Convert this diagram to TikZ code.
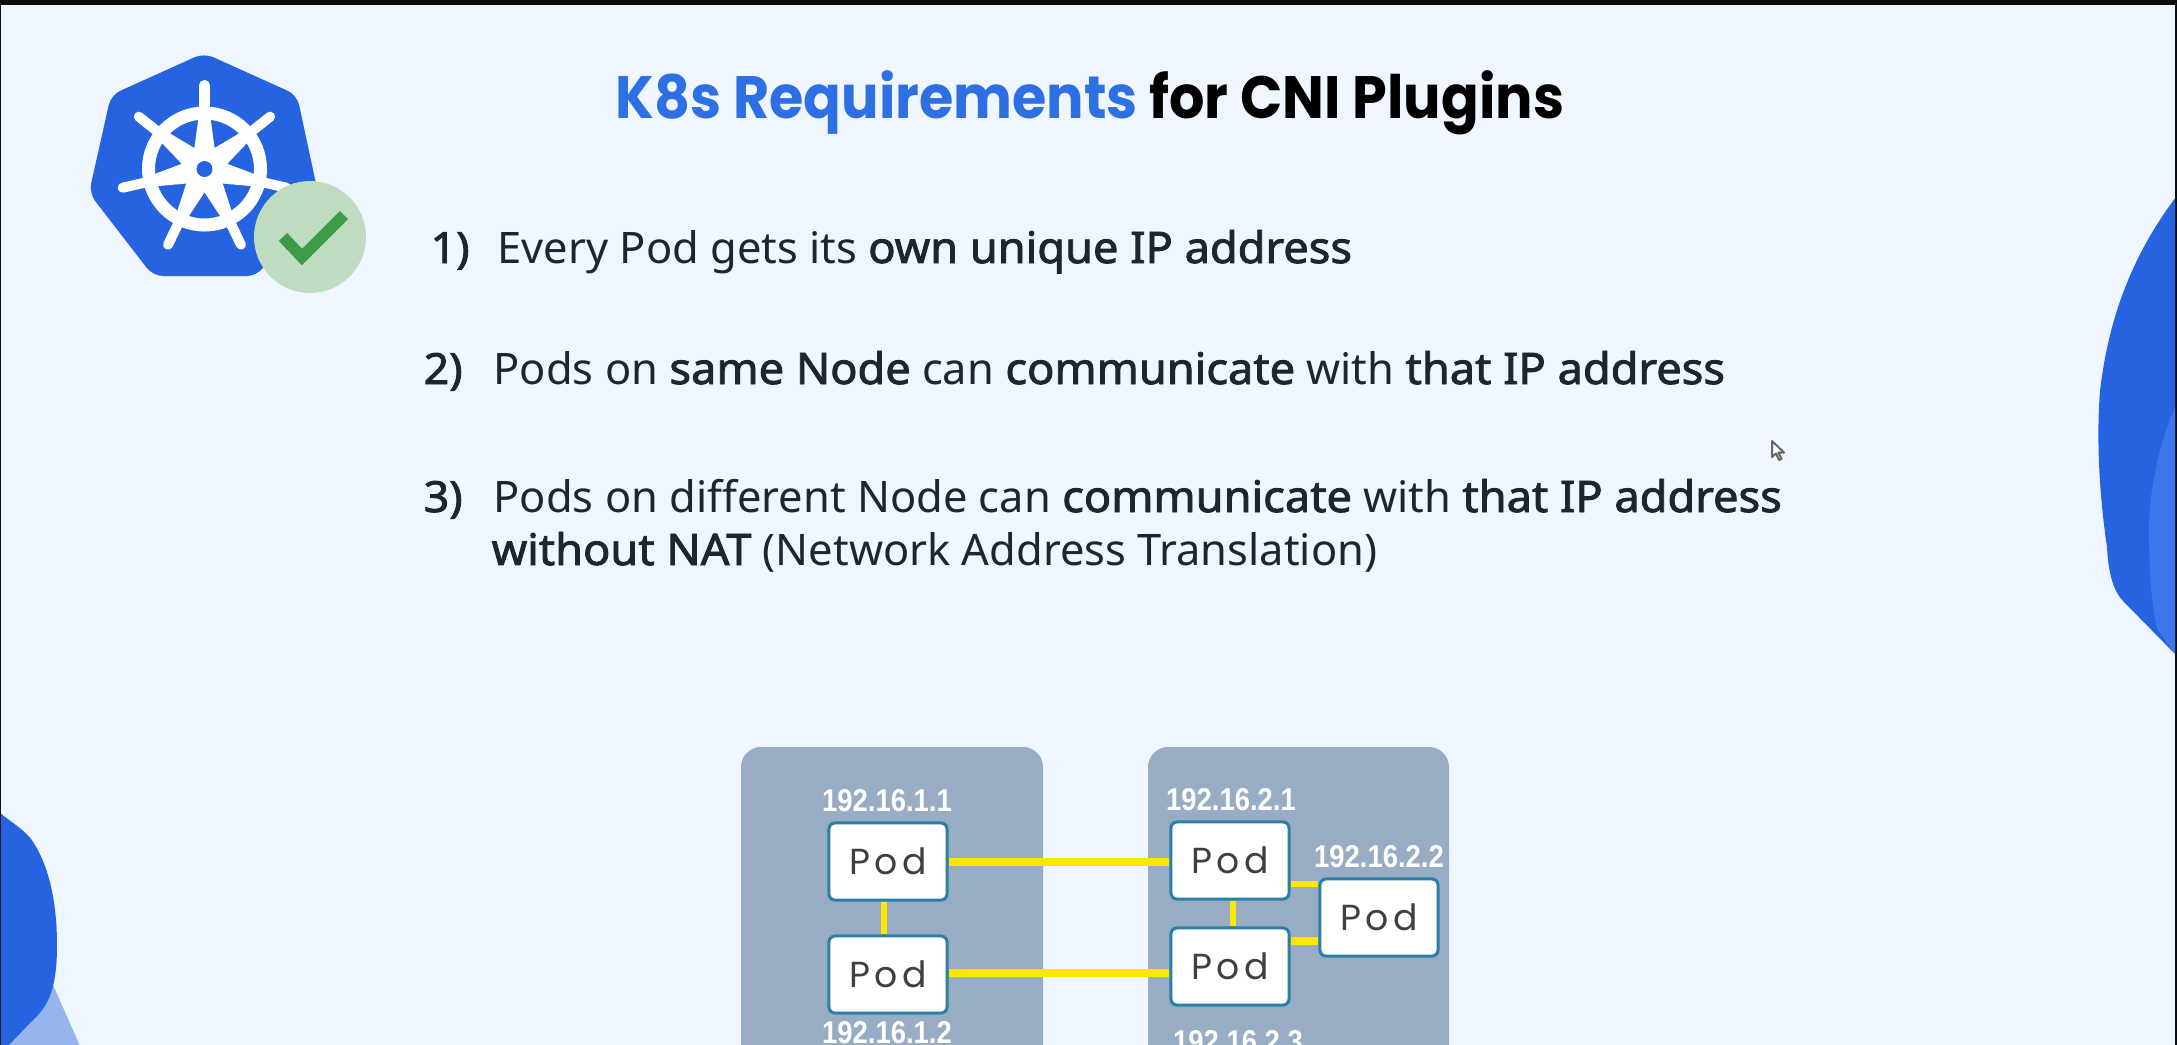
\documentclass[tikz,border=0pt]{standalone}
\usepackage{fontspec}
\usepackage{graphicx}
\setmainfont{Noto Sans}[BoldFont={Noto Sans},BoldFeatures={FakeBold=2,FakeStretch=1.04}]
\newfontfamily\titlef{Poppins}
\newfontfamily\ipf{Liberation Sans}
\newfontfamily\podf{Poppins}[LetterSpace=12]
\usetikzlibrary{calc}
\definecolor{bgc}{HTML}{EFF6FF}
\definecolor{blu}{HTML}{2563E0}
\definecolor{blub}{HTML}{3B76EC}
\definecolor{bluc}{HTML}{96B5EE}
\definecolor{titleblue}{HTML}{2F6FE4}
\definecolor{boxc}{HTML}{98ADC4}
\definecolor{podedge}{HTML}{2A7FA5}
\definecolor{wirec}{HTML}{FFE600}
\definecolor{txt}{HTML}{20242C}
\definecolor{chkbg}{HTML}{BFDCC0}
\definecolor{chk}{HTML}{3C9A48}
\tikzset{
  x=0.01cm,y=-0.01cm,
  bodytext/.style={anchor=base west,inner sep=0,text=txt,font=\fontsize{12.35pt}{14pt}\selectfont},
  numtext/.style={anchor=base west,inner sep=0,text=txt,font=\fontsize{12.2pt}{14pt}\selectfont\bfseries},
  host/.style={fill=boxc,rounded corners=0.2cm},
  pod/.style={draw=podedge,fill=white,line width=0.03cm,rounded corners=0.06cm,minimum width=1.18cm,minimum height=0.77cm,inner sep=0,text=black!75,font=\fontsize{10.3pt}{12pt}\selectfont\podf},
  wire/.style={draw=wirec,line cap=butt},
  iplabel/.style={inner sep=0,text=white,font=\fontsize{7.8pt}{10pt}\selectfont\ipf\bfseries},
  spoke/.style={draw=white,line width=0.1cm,line cap=round},
}
\newcommand{\iptext}[1]{\scalebox{1}[1.15]{#1}}
\begin{document}
\begin{tikzpicture}
\useasboundingbox (0,0) rectangle (2177,1045);
\fill[black!95] (0,0) rectangle (2177,1045);
\clip (1,5) rectangle (2175,1045);
\fill[bgc] (1,5) rectangle (2175,1045);
% corner shapes
\fill[blu] (2176,197) .. controls (2140,245) and (2110,305) .. (2100,391)
  .. controls (2096,443) and (2100,500) .. (2107,547)
  .. controls (2109,585) and (2118,597) .. (2127,605) -- (2176,655) -- cycle;
\fill[blub] (2176,405) .. controls (2160,440) and (2149,490) .. (2149,529)
  .. controls (2149,575) and (2152,605) .. (2157,629) -- (2176,655) -- cycle;
\fill[bluc] (53,985) -- (80,1046) -- (5,1046) -- cycle;
\fill[blu] (0,813) .. controls (15,825) and (28,832) .. (35,845)
  .. controls (50,870) and (57,905) .. (57,945)
  .. controls (57,985) and (50,1005) .. (33,1020) -- (8,1046) -- (0,1046) -- cycle;
% logo
\fill[blu,rounded corners=0.1cm] (204,53) -- (297,95) -- (318,193) -- (257,276) -- (153,276) -- (89,193) -- (111,95) -- cycle;
\coordinate (hub) at (204.5,169);
\foreach \a in {90,141.43,192.86,244.29,295.71,347.14,38.57}{
  \draw[spoke] (hub) -- ++({84*cos(\a)},{-84*sin(\a)});
  \fill[white] ($(hub)+({cos(\a+90)*13},{-sin(\a+90)*13})$) -- ($(hub)+({cos(\a)*55+cos(\a+90)*5.5},{-sin(\a)*55-sin(\a+90)*5.5})$) -- ($(hub)+({cos(\a)*55-cos(\a+90)*5.5},{-sin(\a)*55+sin(\a+90)*5.5})$) -- ($(hub)+({cos(\a-90)*13},{-sin(\a-90)*13})$) -- cycle;
}
\draw[white,line width=0.13cm] (hub) circle[radius=56];
\fill[white] (hub) circle[radius=20];
\fill[blu] (hub) circle[radius=8];
\fill[chkbg] (310,237) circle[radius=56];
\draw[chk,line width=0.115cm] (283,237) -- (302,257) -- (344,215);
% title
\node[anchor=base west,inner sep=0,font=\fontsize{17pt}{20pt}\selectfont\titlef\bfseries] (title) at (615,118) {\scalebox{0.93}[1]{\textcolor{titleblue}{K8s Requirements} for CNI Plugins}};
% text
\node[numtext] (n1) at (430,263) {1)};
\node[bodytext] (t1) at (497,263) {Every Pod gets its \textbf{own unique IP address}};
\node[numtext] (n2) at (423,384) {2)};
\node[bodytext] (t2) at (493,384) {Pods on \textbf{same Node} can \textbf{communicate} with \textbf{that IP address}};
\node[numtext] (n3) at (423,512) {3)};
\node[bodytext] (t3) at (493,512) {Pods on different Node can \textbf{communicate} with \textbf{that IP address}};
\node[bodytext] (t4) at (491,565) {\textbf{without NAT} (Network Address Translation)};
% diagram
\fill[host] (741,747) rectangle (1043,1100);
\fill[host] (1148,747) rectangle (1449,1100);
\coordinate (wa) at (0,862);
\coordinate (wb) at (0,973);
\coordinate (wc) at (0,884);
\coordinate (wd) at (0,941);
\coordinate (we) at (884,0);
\coordinate (wf) at (1233,0);
\node[pod] (p11) at (888,861.5) {Pod};
\node[pod] (p12) at (888,974.5) {Pod};
\node[pod] (p21) at (1230,860.5) {Pod};
\node[pod] (p23) at (1230,966.5) {Pod};
\node[pod] (p22) at (1379,917.5) {Pod};
\draw[wire,line width=0.08cm] (p11.east |- wa) -- (p21.west |- wa);
\draw[wire,line width=0.08cm] (p12.east |- wb) -- (p23.west |- wb);
\draw[wire,line width=0.06cm] (p21.east |- wc) -- (p22.west |- wc);
\draw[wire,line width=0.08cm] (p23.east |- wd) -- (p22.west |- wd);
\draw[wire,line width=0.06cm] (we |- p11.south) -- (we |- p12.north);
\draw[wire,line width=0.06cm] (wf |- p21.south) -- (wf |- p23.north);
\node[iplabel] (ip11) at (887,801) {\iptext{192.16.1.1}};
\node[iplabel] (ip21) at (1231,800) {\iptext{192.16.2.1}};
\node[iplabel] (ip22) at (1379,857) {\iptext{192.16.2.2}};
\node[iplabel] (ip12) at (887,1033) {\iptext{192.16.1.2}};
\node[iplabel] (ip23) at (1238,1042) {\iptext{192.16.2.3}};
% cursor
\filldraw[fill=white,draw=black!60,line width=0.02cm,line join=round] (1772,441) -- (1772,457) -- (1776,453.5) -- (1779,460) -- (1781.5,459) -- (1778.5,452.5) -- (1784,452.5) -- cycle;
\end{tikzpicture}
\end{document}
